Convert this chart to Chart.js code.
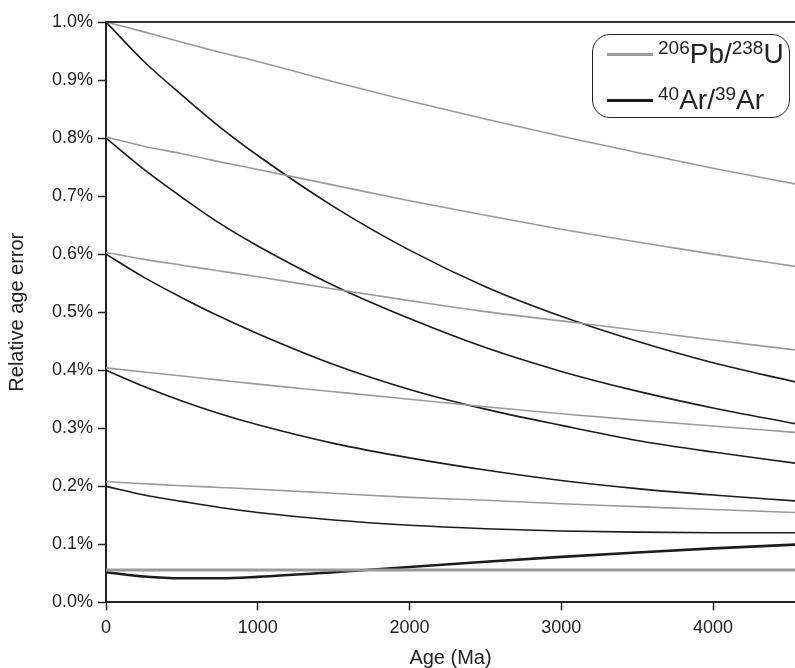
<!DOCTYPE html>
<html>
<head>
<meta charset="utf-8">
<script src="https://cdn.jsdelivr.net/npm/chart.js@4/dist/chart.umd.min.js"></script>
<style>
  body { margin: 0; background: #fff; }
  #wrap { position: relative; width: 795px; height: 668px; }
  #legend {
    position: absolute; left: 592px; top: 34px; width: 196px; height: 82px;
    border: 1.5px solid #222; border-radius: 18px; background: #fff;
    font-family: "Liberation Sans", Arial, sans-serif; color: #222;
  }
  #legend .row { position: absolute; left: 14px; height: 34px; display: flex; align-items: center; }
  #legend .swatch { width: 46px; margin-right: 5px; }
  #legend .txt { font-size: 28px; white-space: nowrap; }
  #legend sup { font-size: 19px; vertical-align: 9px; line-height: 0; }
</style>
</head>
<body>
<div id="wrap">
  <canvas id="chart" width="795" height="668"></canvas>
  <div id="legend"></div>
</div>
<script>
// 年代 (Ma)
const ages = [0, 250, 500, 750, 1000, 1500, 2000, 2500, 3000, 3500, 4000, 4540];

// 206Pb/238U の相対誤差 (%)
const pbU100 = [1.000, 0.983, 0.965, 0.948, 0.932, 0.897, 0.864, 0.833, 0.803, 0.775, 0.748, 0.721];
const pbU080 = [0.802, 0.786, 0.773, 0.759, 0.746, 0.719, 0.692, 0.667, 0.643, 0.621, 0.600, 0.579];
const pbU060 = [0.603, 0.591, 0.581, 0.571, 0.561, 0.540, 0.520, 0.501, 0.485, 0.469, 0.452, 0.435];
const pbU040 = [0.404, 0.397, 0.390, 0.383, 0.376, 0.363, 0.350, 0.337, 0.325, 0.314, 0.304, 0.293];
const pbU020 = [0.208, 0.2045, 0.201, 0.198, 0.195, 0.188, 0.181, 0.176, 0.170, 0.165, 0.160, 0.155];
const pbU005 = [0.056, 0.056, 0.056, 0.056, 0.056, 0.056, 0.056, 0.056, 0.056, 0.056, 0.056, 0.056];

// 40Ar/39Ar の相対誤差 (%)
const arAr100 = [1.000, 0.932, 0.874, 0.819, 0.770, 0.682, 0.607, 0.544, 0.493, 0.450, 0.413, 0.380];
const arAr080 = [0.800, 0.746, 0.698, 0.653, 0.614, 0.546, 0.489, 0.439, 0.398, 0.364, 0.335, 0.308];
const arAr060 = [0.600, 0.560, 0.525, 0.4925, 0.463, 0.410, 0.367, 0.333, 0.305, 0.279, 0.259, 0.240];
const arAr040 = [0.400, 0.372, 0.347, 0.325, 0.306, 0.274, 0.249, 0.228, 0.210, 0.196, 0.185, 0.175];
const arAr020 = [0.200, 0.185, 0.174, 0.1635, 0.155, 0.142, 0.133, 0.127, 0.123, 0.121, 0.120, 0.120];
const arAr005 = [0.052, 0.0445, 0.0415, 0.0415, 0.044, 0.052, 0.061, 0.070, 0.0785, 0.086, 0.093, 0.0995];

const xTicks = [0, 1000, 2000, 3000, 4000];
const legendItems = [
  { html: '<sup>206</sup>Pb/<sup>238</sup>U', color: '#9a9a9a', width: 3 },
  { html: '<sup>40</sup>Ar/<sup>39</sup>Ar', color: '#1c1c1c', width: 3 }
];

const GRAY = '#9a9a9a';
const BLACK = '#1c1c1c';
const FONT = '"Liberation Sans", Arial, sans-serif';

function toPoints(values) {
  return values.map((v, i) => ({ x: ages[i], y: v }));
}

function makeSet(label, values, color, width) {
  return {
    label,
    data: toPoints(values),
    borderColor: color,
    borderWidth: width,
    pointRadius: 0,
    fill: false,
    cubicInterpolationMode: 'monotone'
  };
}

// 灰色を先に置くと上に描かれる
const datasets = [
  makeSet('Pb 1.0', pbU100, GRAY, 1.6),
  makeSet('Pb 0.8', pbU080, GRAY, 1.6),
  makeSet('Pb 0.6', pbU060, GRAY, 1.6),
  makeSet('Pb 0.4', pbU040, GRAY, 1.6),
  makeSet('Pb 0.2', pbU020, GRAY, 1.6),
  makeSet('Pb 0.05', pbU005, GRAY, 3),
  makeSet('Ar 1.0', arAr100, BLACK, 1.6),
  makeSet('Ar 0.8', arAr080, BLACK, 1.6),
  makeSet('Ar 0.6', arAr060, BLACK, 1.6),
  makeSet('Ar 0.4', arAr040, BLACK, 1.6),
  makeSet('Ar 0.2', arAr020, BLACK, 1.6),
  makeSet('Ar 0.05', arAr005, BLACK, 2.6)
];

// 上枠線
const topFrame = {
  id: 'topFrame',
  afterDraw(chart) {
    const { ctx, chartArea } = chart;
    ctx.save();
    ctx.strokeStyle = '#333';
    ctx.lineWidth = 2;
    ctx.beginPath();
    ctx.moveTo(chartArea.left - 1, chartArea.top);
    ctx.lineTo(chartArea.right, chartArea.top);
    ctx.stroke();
    ctx.restore();
  }
};

// 凡例 (HTML)
function buildLegend() {
  const box = document.getElementById('legend');
  legendItems.forEach((item, i) => {
    const row = document.createElement('div');
    row.className = 'row';
    row.style.top = (2 + i * 46) + 'px';
    row.innerHTML = `<div class="swatch" style="border-top:${item.width}px solid ${item.color}"></div>` +
      `<span class="txt">${item.html}</span>`;
    box.appendChild(row);
  });
}

const chart = new Chart(document.getElementById('chart').getContext('2d'), {
  type: 'line',
  data: { datasets },
  plugins: [topFrame],
  options: {
    responsive: false,
    animation: false,
    devicePixelRatio: 1,
    layout: { padding: { top: 22, right: 0, bottom: 0, left: 0 } },
    plugins: { legend: { display: false }, tooltip: { enabled: false } },
    scales: {
      x: {
        type: 'linear',
        min: 0,
        max: 4540,
        afterBuildTicks: (scale) => {
          scale.ticks = xTicks.map(v => ({ value: v }));
        },
        ticks: {
          font: { family: FONT, size: 18 }, color: '#222', padding: 7, maxRotation: 0,
          callback: (v) => String(v)
        },
        grid: { drawOnChartArea: false, drawTicks: true, tickLength: 8, tickColor: '#222', tickWidth: 1.5 },
        border: { color: '#222', width: 2 },
        title: {
          display: true, text: 'Age (Ma)', color: '#222',
          font: { family: FONT, size: 20, lineHeight: 1 },
          padding: { top: 2, bottom: 0 }
        }
      },
      y: {
        min: 0,
        max: 1.0,
        ticks: {
          stepSize: 0.1,
          font: { family: FONT, size: 18 }, color: '#222', padding: 5,
          callback: (v) => v.toFixed(1) + '%'
        },
        grid: { drawOnChartArea: false, drawTicks: true, tickLength: 8, tickColor: '#222', tickWidth: 1.5 },
        border: { color: '#222', width: 2 },
        title: {
          display: true, text: 'Relative age error', color: '#222',
          font: { family: FONT, size: 20, lineHeight: 1 },
          padding: { top: 7, bottom: 20 }
        }
      }
    }
  }
});

buildLegend();
</script>
</body>
</html>
